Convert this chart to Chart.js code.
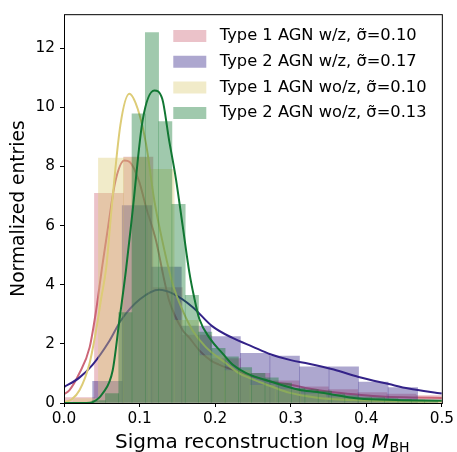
<!DOCTYPE html>
<html><head><meta charset="utf-8">
<script src="https://cdn.jsdelivr.net/npm/chart.js@4.4.0/dist/chart.umd.min.js"></script>
<style>html,body{margin:0;padding:0;background:#fff;}#wrap{width:457px;height:452px;}</style>
</head><body><div id="wrap"><canvas id="c" width="457" height="452"></canvas></div>
<script>
// ---- legend labels ----
const seriesLabels = [
  'Type 1 AGN w/z, σ̃=0.10',
  'Type 2 AGN w/z, σ̃=0.17',
  'Type 1 AGN wo/z, σ̃=0.10',
  'Type 2 AGN wo/z, σ̃=0.13'
];
// ---- histogram bin edges and heights ----
const pinkEdges = [0.0016,0.0403,0.0790,0.1177,0.1564,0.1951,0.2338,0.2725,0.3112,0.3499,0.3886,0.4273,0.4660,0.5047];
const pinkHeights = [0.18,7.09,8.32,3.9,2.3,1.5,1.0,0.75,0.55,0.45,0.35,0.3,0.25];
const purpleEdges = [0.0379,0.0770,0.1161,0.1552,0.1943,0.2334,0.2725,0.3116,0.3507,0.3898,0.4289,0.4680];
const purpleHeights = [0.73,6.68,4.6,2.6,2.25,1.68,1.59,1.22,1.22,0.71,0.52];
const yellowEdges = [0.0121,0.0455,0.0790,0.1124,0.1458,0.1793,0.2127,0.2461,0.2795,0.3130,0.3464,0.3798,0.4132,0.4467,0.4801];
const yellowHeights = [0.15,8.28,8.3,7.9,2.8,1.6,1.1,0.6,0.45,0.3,0.2,0.15,0.1,0.08];
const greenEdges = [0.0372,0.0548,0.0724,0.0900,0.1076,0.1252,0.1428,0.1604,0.1780,0.1956,0.2132,0.2308,0.2484,0.2660,0.2836,0.3012,0.3188,0.3364,0.3540,0.3716,0.3892,0.4068,0.4244,0.4420,0.4596,0.4772,0.4948];
const greenHeights = [0.08,0.32,3.06,9.78,12.53,9.52,6.72,3.64,2.4,1.85,1.56,1.2,1.0,0.85,0.67,0.5,0.45,0.4,0.3,0.25,0.2,0.18,0.15,0.12,0.1,0.08];
// ---- density curves ----
const pinkKdeX = [0,0.007,0.02,0.034,0.0425,0.051,0.058,0.068,0.08,0.087,0.0997,0.1085,0.1217,0.1327,0.139,0.157,0.166,0.179,0.194,0.205,0.232,0.2756,0.3,0.324,0.354,0.39,0.42,0.46,0.5];
const pinkKdeY = [0.3,0.43,0.99,1.89,3.13,4.7,5.9,7.5,8.2,8.15,7.47,6.63,5.5,4.15,3.47,2.46,2.2,1.78,1.44,1.3,1.05,0.71,0.62,0.49,0.37,0.28,0.22,0.19,0.17];
const purpleKdeX = [0,0.02,0.038,0.06,0.0755,0.1,0.126,0.144,0.17,0.196,0.223,0.25,0.273,0.3,0.324,0.357,0.39,0.43,0.456,0.5];
const purpleKdeY = [0.54,0.85,1.3,2.1,2.8,3.5,3.83,3.7,3.25,2.6,2.2,1.9,1.65,1.45,1.33,1.13,0.88,0.64,0.49,0.32];
const yellowKdeX = [0,0.01,0.0205,0.0337,0.0425,0.049,0.056,0.0627,0.0746,0.0865,0.0975,0.1085,0.1195,0.13,0.1436,0.157,0.17,0.1877,0.214,0.232,0.245,0.258,0.2756,0.2977,0.335,0.377,0.44,0.5];
const yellowKdeY = [0.03,0.12,0.43,1.33,2.46,3.5,4.6,6.5,9.4,10.46,9.95,8.77,6.85,5.5,4.04,3.13,2.46,1.89,1.35,1.0,0.85,0.72,0.55,0.35,0.18,0.1,0.06,0.05];
const greenKdeX = [0,0.03,0.038,0.051,0.0644,0.0733,0.082,0.0908,0.104,0.1195,0.13,0.139,0.148,0.157,0.166,0.172,0.179,0.194,0.21,0.223,0.2405,0.2756,0.311,0.335,0.39,0.44,0.5];
const greenKdeY = [0,0,0.03,0.32,1.1,2.8,4.49,6.5,9.55,10.57,10.29,8.9,7.6,6.0,4.4,3.6,2.85,2.15,1.67,1.3,1.02,0.71,0.45,0.37,0.15,0.1,0.08];
// ---- axis ticks ----
const xTickValues = [0,0.1,0.2,0.3,0.4,0.5];
const yTickValues = [0,2,4,6,8,10,12];

const colors = ['#CC6677','#332288','#DDCC77','#117733'];
function rgba(hex,a){const n=parseInt(hex.slice(1),16);return `rgba(${n>>16&255},${n>>8&255},${n&255},${a})`;}

const hists = [[pinkEdges,pinkHeights],[purpleEdges,purpleHeights],[yellowEdges,yellowHeights],[greenEdges,greenHeights]];
const kdes = [[pinkKdeX,pinkKdeY],[purpleKdeX,purpleKdeY],[yellowKdeX,yellowKdeY],[greenKdeX,greenKdeY]];
const histAxes = ['xh0','xh1','xh2','xh3'];

const datasets = [];
for (let s = 0; s < 4; s++) {
  const [e,h] = hists[s];
  datasets.push({
    type:'bar', label:seriesLabels[s], xAxisID:histAxes[s], yAxisID:'y',
    data:h.map((v,i)=>({x:(e[i]+e[i+1])/2, y:v})),
    backgroundColor:rgba(colors[s],0.4), borderWidth:0,
    barPercentage:1, categoryPercentage:1, grouped:false,
    order: 8 - 2*s
  });
  const [kx,ky] = kdes[s];
  datasets.push({
    type:'line', label:seriesLabels[s]+' kde', xAxisID:'x', yAxisID:'y',
    data:kx.map((v,i)=>({x:v, y:ky[i]})),
    borderColor:colors[s], borderWidth:2, pointRadius:0, fill:false,
    cubicInterpolationMode:'monotone', order: 7 - 2*s
  });
}

Chart.defaults.font.family = "'DejaVu Sans'";
Chart.defaults.color = '#000';

const scales = {
  x: {
    type:'linear', min:0, max:0.5, offset:false,
    afterBuildTicks: sc => { sc.ticks = xTickValues.map(v=>({value:v})); },
    ticks:{ callback:v=>Number(v).toFixed(1), font:{size:15.3}, color:'#000', padding:3, maxRotation:0, autoSkip:false },
    grid:{ drawOnChartArea:false, drawTicks:true, tickLength:4, color:'#000', offset:false },
    border:{ display:false },
    afterFit: sc => { sc.height = 49; }
  },
  y: {
    min:0, max:13.15,
    afterBuildTicks: sc => { sc.ticks = yTickValues.map(v=>({value:v})); },
    ticks:{ font:{size:15.3}, color:'#000', padding:5 },
    grid:{ drawOnChartArea:false, drawTicks:true, tickLength:4, color:'#000' },
    border:{ display:false },
    title:{ display:true, text:'Normalized entries', font:{size:18.67}, color:'#000', padding:{top:8,bottom:0} },
    afterFit: sc => { sc.width = 64; }
  }
};
histAxes.forEach(id => { scales[id] = {type:'linear', min:0, max:0.5, display:false, offset:false, grid:{offset:false}, ticks:{stepSize:0.1}}; });

const LEG_FONT = 16.3, LEG_BOXW = 43.65, LEG_LW = 10.65, LEG_BOXH = 22.65, LEG_PAD = 3.05;
const legendPlace = {
  id:'legendPlace',
  afterLayout(chart){
    const l = chart.legend;
    l.left = 173.3 - LEG_LW/2 - LEG_PAD; l.right = l.left + 300;
    l.top = 36 - LEG_BOXH/2 - LEG_PAD; l.bottom = l.top + 200;
    l.width = 300; l.height = 200;
  }
};
const frame = {
  id:'frame',
  afterDatasetsDraw(chart){
    const {ctx, chartArea:a} = chart;
    ctx.save(); ctx.strokeStyle = '#000'; ctx.lineWidth = 1;
    ctx.strokeRect(a.left+0.5, a.top+0.5, a.right-a.left, a.bottom-a.top);
    ctx.restore();
  }
};
const xTitle = {
  id:'xTitle',
  afterDraw(chart){
    const {ctx} = chart;
    const f = 20, base = 448, startX = 115;
    const p1 = 'Sigma reconstruction log ', p2 = 'M', p3 = 'BH';
    ctx.save(); ctx.fillStyle = '#000'; ctx.textBaseline = 'alphabetic'; ctx.textAlign = 'left';
    let x = startX;
    ctx.font = `${f}px 'DejaVu Sans'`; ctx.fillText(p1, x, base); x += ctx.measureText(p1).width;
    ctx.font = `italic ${f}px 'DejaVu Sans'`; ctx.fillText(p2, x, base); x += ctx.measureText(p2).width + 0.5;
    ctx.font = `${f*0.7}px 'DejaVu Sans'`; ctx.fillText(p3, x, base + 3.5);
    ctx.restore();
  }
};

new Chart(document.getElementById('c'), {
  type:'line',
  data:{ datasets },
  options:{
    responsive:false, animation:false, devicePixelRatio:1, events:[],
    layout:{ padding:{ top:14, right:14, left:0, bottom:0 } },
    scales,
    plugins:{
      tooltip:{ enabled:false },
      legend:{
        position:'chartArea', align:'start',
        labels:{
          boxWidth:LEG_BOXW, boxHeight:LEG_BOXH, padding:LEG_PAD, font:{size:LEG_FONT}, color:'#000',
          generateLabels: chart => seriesLabels.map((t,s)=>({
            text:t, fillStyle:rgba(colors[s],0.4), strokeStyle:'#ffffff', lineWidth:LEG_LW,
            hidden:false, datasetIndex:2*s, fontColor:'#000'
          }))
        }
      }
    }
  },
  plugins:[legendPlace, frame, xTitle]
});
</script></body></html>
